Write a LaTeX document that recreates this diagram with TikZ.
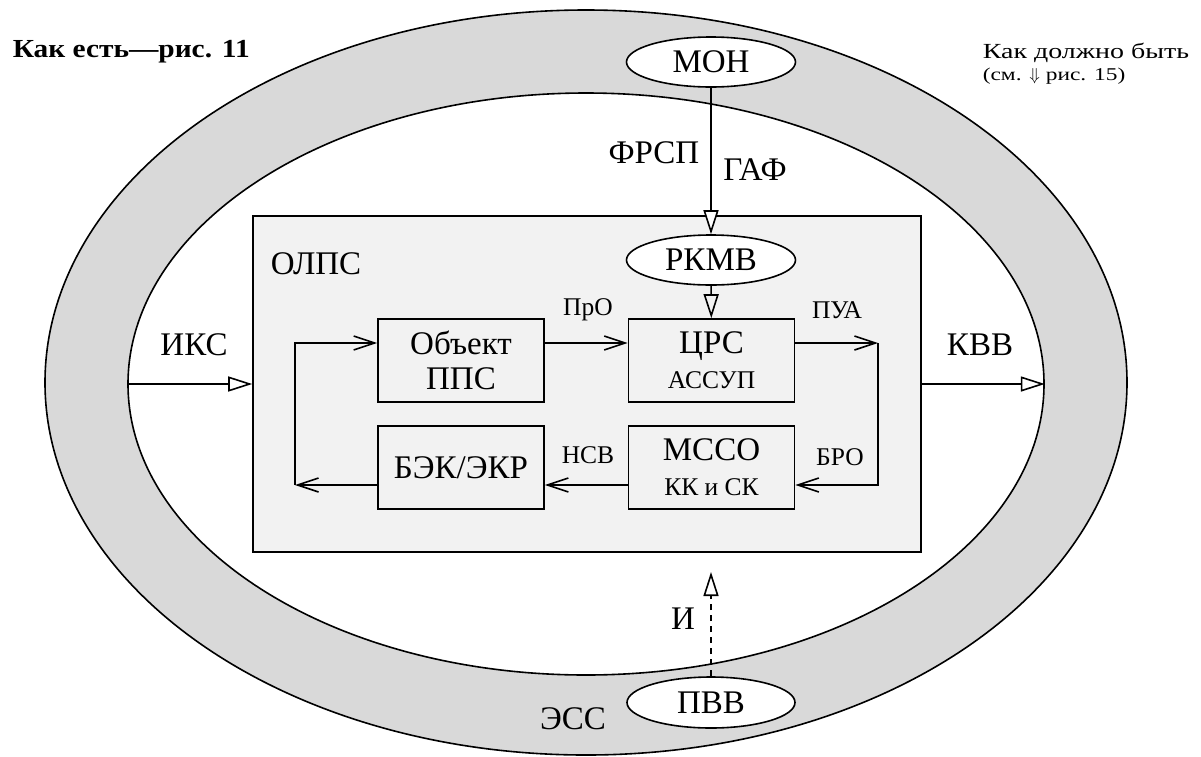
\documentclass[tikz,border=0pt]{standalone}
\usepackage{fontspec}
\setmainfont{Liberation Serif}
\newfontfamily\widefont[FakeStretch=1.3]{Liberation Serif}
\newfontfamily\titlefont[FakeStretch=1.13]{Liberation Serif Bold}
\usetikzlibrary{shapes.geometric,arrows.meta}
\definecolor{bandg}{gray}{0.85}
\definecolor{boxg}{gray}{0.949}
\newcommand\mainf{\fontsize{33}{35}\selectfont}
\newcommand\smallf{\fontsize{25.5}{31}\selectfont}
\newcommand\titlef{\titlefont\fontsize{26}{30}\selectfont}
\newcommand\rtf{\widefont\fontsize{21.5}{25}\selectfont}
\newcommand\rsf{\widefont\fontsize{18}{22}\selectfont}
\begin{document}
\begin{tikzpicture}[x=1pt,y=-1pt,line width=1.6pt,
  lbl/.style={anchor=base,inner sep=0pt,font=\mainf},
  slbl/.style={anchor=base,inner sep=0pt,font=\smallf},
  blk/.style={draw,minimum width=166pt,minimum height=83pt,inner sep=0pt,align=center,font=\mainf},
  oval/.style={draw,ellipse,fill=white,minimum width=169pt,minimum height=50pt,inner sep=0pt,font=\mainf},
  tri/.style={-{Triangle[fill=white,length=24pt,width=15pt]}},
  barb/.style={-{Straight Barb[length=21pt,width=14pt]}}]
\useasboundingbox (0,0) rectangle (1201,756);
% rings and frame
\node[ellipse,draw,fill=bandg,minimum width=1082pt,minimum height=745pt,inner sep=0pt] (outer) at (586,382.5) {};
\node[ellipse,draw,fill=white,minimum width=916pt,minimum height=582pt,inner sep=0pt] (inner) at (586,384) {};
\node[draw,fill=boxg,minimum width=668pt,minimum height=336pt,inner sep=0pt] (olps) at (587,384) {};
% blocks
\node[blk] (obj) at (461,360.5) {Объект\\ППС};
\node[blk] (crs) at (711.5,360.5) {ЦРС\\{\smallf АССУП}};
\node[blk] (bek) at (461,467.5) {БЭК/ЭКР};
\node[blk] (msso) at (711.5,467.5) {МССО\\{\smallf КК и СК}};
% helper coordinates
\coordinate (r1) at (0,343);
\coordinate (r2) at (0,485);
\coordinate (rc1) at (878,343);
\coordinate (rc2) at (878,485);
\coordinate (lc1) at (295,343);
\coordinate (lc2) at (295,485);
\coordinate (itip) at (711,572);
% loop connectors
\draw[barb] (obj.east |- r1) -- (crs.west |- r1);
\draw[barb] (crs.east |- r1) -- (rc1);
\draw[barb] (rc1) -- (rc2) -- (msso.east |- r2);
\draw[barb] (msso.west |- r2) -- (bek.east |- r2);
\draw[barb] (bek.west |- r2) -- (lc2);
\draw[barb] (lc2) -- (lc1) -- (obj.west |- r1);
% ovals
\node[oval] (mon) at (711,62) {МОН};
\node[oval] (rkmv) at (711,260) {РКМВ};
\node[oval,minimum width=168pt,minimum height=51pt] (pvv) at (711,702.5) {ПВВ};
% other connectors
\draw[tri] (mon) -- (rkmv);
\draw[-{Triangle[fill=boxg,length=24pt,width=15pt]}] (rkmv) -- (crs);
\draw[tri] (inner.west) -- (olps.west);
\draw[tri] (olps.east) -- (inner.east);
\draw[tri,dash pattern=on 6pt off 5pt] (pvv) -- (itip);
% labels
\node[lbl] (frsp) at (654,163) {ФРСП};
\node[lbl] (gaf) at (755,180) {ГАФ};
\node[lbl,anchor=base west] (olpsl) at (270,274) {ОЛПС};
\node[slbl] (pro) at (588,315) {ПрО};
\node[slbl] (pua) at (837,318) {ПУА};
\node[slbl] (nsv) at (588,463) {НСВ};
\node[slbl] (bro) at (840,465) {БРО};
\node[lbl] (iks) at (194,355) {ИКС};
\node[lbl] (kvv) at (980,355) {КВВ};
\node[lbl] (ilbl) at (683,629) {И};
\node[lbl] (ess) at (573,729) {ЭСС};
\node[anchor=base west,inner sep=0pt,font=\titlef] (t1) at (12,57) {Как есть—рис. 11};
\node[anchor=base west,inner sep=0pt,font=\rtf] (t2) at (982,58) {Как должно быть};
\node[anchor=base west,inner sep=0pt,font=\rsf] (t3) at (982,80) {(см. $\Downarrow$ рис. 15)};
\end{tikzpicture}
\end{document}
